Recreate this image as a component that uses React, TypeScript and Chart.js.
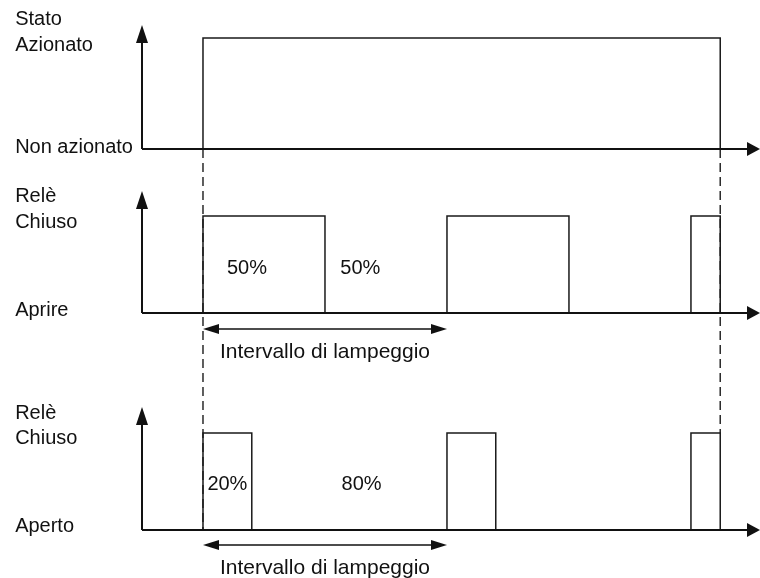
import React, { useEffect, useRef } from "react";
import { Chart, registerables } from "chart.js";

Chart.register(...registerables);

// ---- Data (time in units; one flashing interval = 10 units) ----
const PERIOD = 10;
const END_TIME = 21.2;
const AXIS_START = -2.5;

const stateLabels = ["Stato", "Azionato", "Non azionato"];
const relay1Labels = ["Relè", "Chiuso", "Aprire"];
const relay2Labels = ["Relè", "Chiuso", "Aperto"];

const statePulses: number[][] = [[0, END_TIME]];
const relay1Pulses: number[][] = [[0, 5], [10, 15], [20, END_TIME]];
const relay2Pulses: number[][] = [[0, 2], [10, 12], [20, END_TIME]];

const relay1Duty = ["50%", "50%"];
const relay2Duty = ["20%", "80%"];
const intervalLabel = "Intervallo di lampeggio";

// ---- helpers ----
function pulsePoints(pulses: number[][]) {
  const pts: { x: number; y: number }[] = [];
  pulses.forEach(([a, b]) => {
    pts.push({ x: a, y: 0 }, { x: a, y: 1 }, { x: b, y: 1 }, { x: b, y: 0 });
  });
  return pts;
}

const FONT = '20px "Liberation Sans", Arial, sans-serif';
const FONT_INTERVAL = '21px "Liberation Sans", Arial, sans-serif';
const INK = "#111";

const diagramPlugin = {
  id: "timingDiagram",
  beforeDatasetsDraw(chart: any) {
    const { ctx, scales } = chart;
    const x = scales.x;
    ctx.save();
    ctx.strokeStyle = "#2a2a2a";
    ctx.lineWidth = 1.5;
    ctx.setLineDash([9, 5]);
    ctx.beginPath();
    ctx.moveTo(x.getPixelForValue(0), scales.y1.getPixelForValue(0));
    ctx.lineTo(x.getPixelForValue(0), scales.y3.getPixelForValue(0));
    ctx.stroke();
    ctx.beginPath();
    ctx.moveTo(x.getPixelForValue(END_TIME), scales.y1.getPixelForValue(0));
    ctx.lineTo(x.getPixelForValue(END_TIME), scales.y3.getPixelForValue(1));
    ctx.stroke();
    ctx.restore();
  },
  afterDatasetsDraw(chart: any) {
    const { ctx, scales } = chart;
    const x = scales.x;
    const panels = [
      { y: scales.y1, tip: 1.117, labels: stateLabels, ly: [1.162, 0.928, 0.009], duty: null as any, interval: null as any },
      { y: scales.y2, tip: 1.258, labels: relay1Labels, ly: [1.206, 0.938, 0.031], duty: { text: relay1Duty, xs: [1.8, 6.45], y: 0.464 }, interval: { y: -0.165, ty: -0.402 } },
      { y: scales.y3, tip: 1.268, labels: relay2Labels, ly: [1.206, 0.948, 0.031], duty: { text: relay2Duty, xs: [1.0, 6.5], y: 0.474 }, interval: { y: -0.155, ty: -0.392 } },
    ];
    ctx.save();
    ctx.fillStyle = INK;
    ctx.strokeStyle = INK;
    ctx.font = FONT;
    const x0 = x.getPixelForValue(AXIS_START);
    const xEnd = x.getPixelForValue(x.max);
    panels.forEach((p) => {
      const yb = p.y.getPixelForValue(0);
      const yt = p.y.getPixelForValue(p.tip);
      ctx.lineWidth = 2;
      ctx.beginPath();
      ctx.moveTo(x0, yb);
      ctx.lineTo(x0, yt + 14);
      ctx.moveTo(x0, yb);
      ctx.lineTo(xEnd - 9, yb);
      ctx.stroke();
      ctx.beginPath();
      ctx.moveTo(x0, yt);
      ctx.lineTo(x0 - 6, yt + 18);
      ctx.lineTo(x0 + 6, yt + 18);
      ctx.closePath();
      ctx.fill();
      ctx.beginPath();
      ctx.moveTo(xEnd, yb);
      ctx.lineTo(xEnd - 13, yb - 7);
      ctx.lineTo(xEnd - 13, yb + 7);
      ctx.closePath();
      ctx.fill();
      ctx.font = FONT;
      ctx.textAlign = "left";
      ctx.textBaseline = "middle";
      p.labels.forEach((t, i) => {
        ctx.fillText(t, x.getPixelForValue(-7.7), p.y.getPixelForValue(p.ly[i]));
      });
      if (p.duty) {
        ctx.textAlign = "center";
        p.duty.text.forEach((t: string, i: number) => {
          ctx.fillText(t, x.getPixelForValue(p.duty.xs[i]), p.y.getPixelForValue(p.duty.y));
        });
      }
      if (p.interval) {
        const ya = p.y.getPixelForValue(p.interval.y);
        const xa = x.getPixelForValue(0);
        const xb = x.getPixelForValue(PERIOD);
        ctx.lineWidth = 1.6;
        ctx.beginPath();
        ctx.moveTo(xa + 10, ya);
        ctx.lineTo(xb - 10, ya);
        ctx.stroke();
        ctx.beginPath();
        ctx.moveTo(xa, ya);
        ctx.lineTo(xa + 16, ya - 5);
        ctx.lineTo(xa + 16, ya + 5);
        ctx.closePath();
        ctx.fill();
        ctx.beginPath();
        ctx.moveTo(xb, ya);
        ctx.lineTo(xb - 16, ya - 5);
        ctx.lineTo(xb - 16, ya + 5);
        ctx.closePath();
        ctx.fill();
        ctx.font = FONT_INTERVAL;
        ctx.textAlign = "center";
        ctx.fillText(intervalLabel, x.getPixelForValue(PERIOD / 2), p.y.getPixelForValue(p.interval.ty));
      }
    });
    ctx.restore();
  },
};

export default function App() {
  const ref = useRef<HTMLCanvasElement | null>(null);
  useEffect(() => {
    if (!ref.current) return;
    const mk = (data: any[], yAxisID: string) => ({
      data,
      yAxisID,
      borderColor: "#1a1a1a",
      borderWidth: 1.5,
      pointRadius: 0,
      tension: 0,
      fill: false,
      clip: false as any,
    });
    const chart = new Chart(ref.current, {
      type: "line",
      data: {
        datasets: [
          mk(pulsePoints(statePulses), "y1"),
          mk(pulsePoints(relay1Pulses), "y2"),
          mk(pulsePoints(relay2Pulses), "y3"),
        ],
      },
      options: {
        responsive: false,
        animation: false,
        layout: { padding: 0 },
        plugins: { legend: { display: false }, tooltip: { enabled: false } },
        scales: {
          x: { type: "linear", display: false, min: -8.32, max: 22.83 },
          y1: { type: "linear", display: false, min: -3.865, max: 1.342 },
          y2: { type: "linear", display: false, min: -2.732, max: 3.227 },
          y3: { type: "linear", display: false, min: -0.495, max: 5.464 },
        },
      },
      plugins: [diagramPlugin],
    });
    return () => chart.destroy();
  }, []);
  return (
    <div style={{ position: "absolute", left: 0, top: 0, width: 760, height: 578, background: "#fff" }}>
      <canvas ref={ref} width={760} height={578} style={{ display: "block" }} />
    </div>
  );
}
